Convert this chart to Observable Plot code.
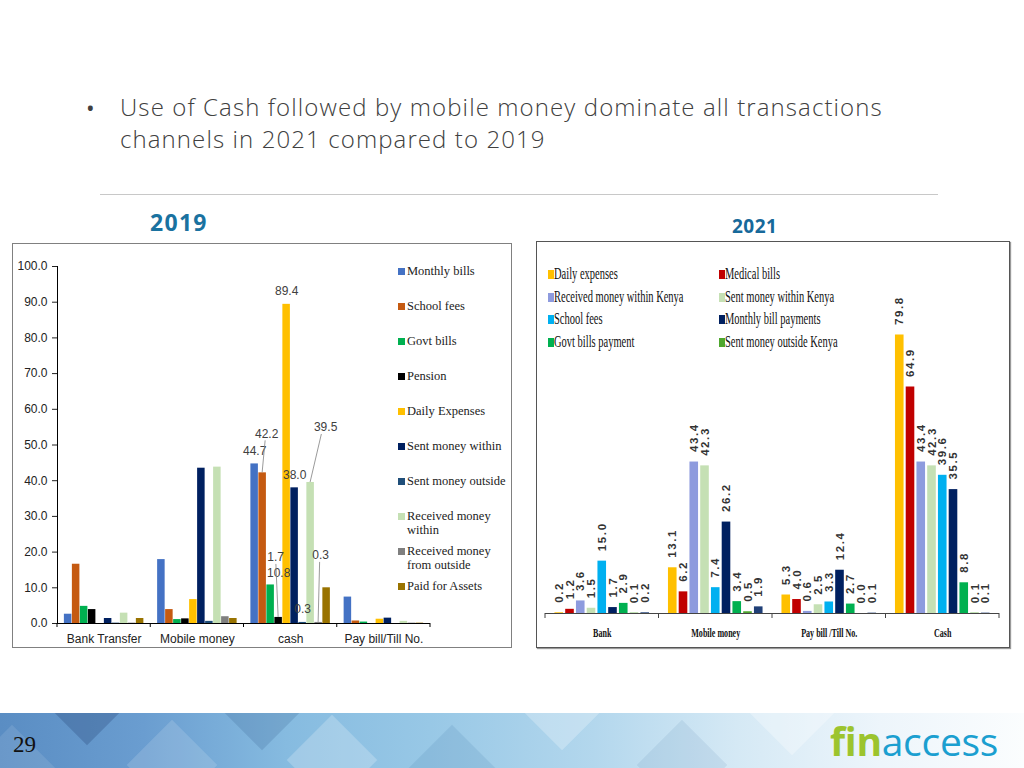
<!DOCTYPE html>
<html><head><meta charset="utf-8">
<script src="https://cdn.jsdelivr.net/npm/d3@7"></script>
<script src="https://cdn.jsdelivr.net/npm/@observablehq/plot@0.6"></script>
<style>
html,body{margin:0;padding:0;background:#fff;}
#slide{position:relative;width:1024px;height:768px;overflow:hidden;font-family:"Open Sans",sans-serif;}
#bullet{position:absolute;left:86px;top:92px;font-size:23px;line-height:32px;color:#404040;}
#title{position:absolute;left:120px;top:91px;font-size:24px;line-height:32px;color:#404040;white-space:nowrap;font-weight:300;letter-spacing:1.1px;}
#rule{position:absolute;left:100px;top:194px;width:838px;height:1px;background:#c8c8c8;}
#y2019{position:absolute;left:150px;top:206px;font-size:23px;font-weight:700;color:#1a72a0;letter-spacing:1.3px;line-height:32px;}
#y2021{position:absolute;left:732px;top:214px;font-size:19px;font-weight:700;color:#17699a;letter-spacing:0.5px;line-height:24px;}
#box1{position:absolute;left:12px;top:243px;width:498px;height:403px;border:1px solid #808080;}
#box2{position:absolute;left:536px;top:241px;width:472px;height:405px;border:1px solid #555;box-shadow:1px 1px 1px #999;}
#plot1{position:absolute;left:0;top:0;}
#plot2{position:absolute;left:0;top:0;}
#leg1{position:absolute;left:385px;top:20px;font-family:"Liberation Serif",serif;font-size:12.5px;line-height:14px;color:#222;}
#leg1 .row{position:relative;height:35px;padding-left:9px;width:100px;}
#leg1 .sw{position:absolute;left:0;top:3.5px;width:7px;height:7px;}
#leg2{position:absolute;left:11px;top:21px;font-family:"Liberation Serif",serif;font-size:16px;line-height:22.5px;color:#111;display:grid;grid-template-columns:171px 171px;}
#leg2 .row{position:relative;height:22.5px;padding-left:6px;white-space:nowrap;}
#leg2 .sw{position:absolute;left:0;top:7px;width:6px;height:9px;}
#leg2 .tx{display:inline-block;transform:scaleX(0.655);transform-origin:left center;}
#plot2 [aria-label="text"] text{letter-spacing:1.6px;font-weight:600;}
#footer{position:absolute;left:0;top:713px;width:1024px;height:55px;overflow:hidden;
background:linear-gradient(90deg,#5a8dc3 0%,#6a9dd0 14%,#86bbe0 28%,#98c8e6 42%,#b3d7ed 58%,#d5e9f5 72%,#edf5fb 86%,#fbfdfe 100%);}
.dm{position:absolute;width:64px;height:64px;transform:rotate(45deg);}
#pnum{position:absolute;left:13px;top:730px;font-family:"Liberation Serif",serif;font-size:23px;color:#111;line-height:30px;}
#logo{position:absolute;left:830px;top:721px;font-family:"Open Sans",sans-serif;font-size:39px;line-height:40px;letter-spacing:-0.3px;white-space:nowrap;}
#logo .fin{color:#9cc42e;font-weight:700;}
#logo .acc{color:#1b9fd0;font-weight:400;}
</style></head>
<body><div id="slide">
<div id="footer">
  <div class="dm" style="left:55px;top:-45px;background:rgba(40,70,120,0.30)"></div>
  <div class="dm" style="left:140px;top:20px;background:rgba(255,255,255,0.14)"></div>
  <div class="dm" style="left:-20px;top:25px;background:rgba(255,255,255,0.10)"></div>
  <div class="dm" style="left:230px;top:-40px;background:rgba(40,80,130,0.18)"></div>
  <div class="dm" style="left:300px;top:15px;background:rgba(255,255,255,0.22)"></div>
  <div class="dm" style="left:420px;top:25px;background:rgba(60,110,160,0.14)"></div>
  <div class="dm" style="left:530px;top:-40px;background:rgba(255,255,255,0.25)"></div>
  <div class="dm" style="left:650px;top:20px;background:rgba(60,110,160,0.10)"></div>
  <div class="dm" style="left:760px;top:-35px;background:rgba(255,255,255,0.30)"></div>
</div>
<div id="bullet">•</div>
<div id="title">Use of Cash followed by mobile money dominate all transactions<br>channels in 2021 compared to 2019</div>
<div id="rule"></div>
<div id="y2019">2019</div>
<div id="y2021">2021</div>
<div id="box1"><div id="plot1"></div><div id="leg1"></div></div>
<div id="box2"><div id="plot2"></div><div id="leg2"></div></div>
<div id="pnum">29</div>
<div id="logo"><span class="fin">fin</span><span class="acc">access</span></div>
</div>
<script>
// ---------- 2019 chart data ----------
const cats2019 = ["Bank Transfer", "Mobile money", "cash", "Pay bill/Till No."];
const series2019 = ["Monthly bills", "School fees", "Govt bills", "Pension", "Daily Expenses",
  "Sent money within", "Sent money outside", "Received money within", "Received money from outside", "Paid for Assets"];
const bank2019    = [2.6, 16.6, 4.8, 3.9, 0.0, 1.4, 0.1, 2.9, 0.1, 1.4];
const mobile2019  = [17.9, 3.9, 1.1, 1.3, 6.7, 43.5, 0.6, 43.8, 1.9, 1.4];
const cash2019    = [44.7, 42.2, 10.8, 1.7, 89.4, 38.0, 0.3, 39.5, 0.3, 10.0];
const paybill2019 = [7.4, 0.7, 0.4, 0.0, 1.2, 1.5, 0.0, 0.6, 0.1, 0.1];
const yTicks2019 = [0, 10, 20, 30, 40, 50, 60, 70, 80, 90, 100];
const labelledCat2019 = "cash";
const labelledSeries2019 = series2019.slice(0, 9);

// ---------- 2021 chart data ----------
const cats2021 = ["Bank", "Mobile money", "Pay bill /Till No.", "Cash"];
const series2021 = ["Daily expenses", "Medical bills", "Received money within Kenya", "Sent money within Kenya",
  "School fees", "Monthly bill payments", "Govt bills payment", "Sent money outside Kenya", "Received money from outside Kenya"];
const bank2021    = [0.2, 1.2, 3.6, 1.5, 15.0, 1.7, 2.9, 0.1, 0.2];
const mobile2021  = [13.1, 6.2, 43.4, 42.3, 7.4, 26.2, 3.4, 0.5, 1.9];
const paybill2021 = [5.3, 4.0, 0.6, 2.5, 3.3, 12.4, 2.7, 0.0, 0.1];
const cash2021    = [79.8, 64.9, 43.4, 42.3, 39.6, 35.5, 8.8, 0.1, 0.1];
const legendSeries2021 = series2021.slice(0, 8);

// ---------- styles (kept apart from data) ----------
const colors2019 = ["#4472C4", "#C55A11", "#00B050", "#000000", "#FFC000", "#002060", "#1F4E79", "#C5E0B4", "#7F7F7F", "#997300"];
const colors2021 = ["#FFC000", "#C00000", "#8E9BDE", "#C5E0B4", "#00B0F0", "#002060", "#00B050", "#4EA72E", "#1F3F77"];
// pixel offsets [dx, dy] of the 2019 data labels that were dragged away from their bars
const labelOffsets2019 = {
  "School fees": [4, -39], "Received money within": [15, -55], "Pension": [-3, -60],
  "Govt bills": [8, -12], "Received money from outside": [2, -67]
};
const defaultOffset2019 = [0, -13];
const leaders2019 = ["School fees", "Received money within", "Pension", "Received money from outside"];

// ---------- build tables ----------
const vals2019 = [bank2019, mobile2019, cash2019, paybill2019];
const rows2019 = cats2019.flatMap((c, i) => series2019.map((s, j) => ({cat: c, series: s, value: vals2019[i][j]})));
const vals2021 = [bank2021, mobile2021, paybill2021, cash2021];
const rows2021 = cats2021.flatMap((c, i) => series2021.map((s, j) => ({cat: c, series: s, value: vals2021[i][j]})));

const fmt = d => d.value.toFixed(1);

// ---------- 2019 chart ----------
const labelRows2019 = rows2019.filter(d => d.cat === labelledCat2019 && labelledSeries2019.includes(d.series));
const labelMarks2019 = labelRows2019.map(d => {
  const [dx, dy] = labelOffsets2019[d.series] || defaultOffset2019;
  return Plot.text([d], {fx: "cat", x: "series", y: "value", text: fmt, dx, dy,
    fill: "#404040", fontSize: 12, lineAnchor: "middle"});
});

const chart1 = Plot.plot({
  width: 498, height: 403,
  marginLeft: 44, marginRight: 81, marginTop: 22, marginBottom: 24,
  style: {fontFamily: "'Liberation Sans', Arial, sans-serif", fontSize: "12px", color: "#222", background: "transparent"},
  fx: {domain: cats2019, padding: 0, round: false, axis: "bottom", tickSize: 0, tickPadding: 11, label: null},
  x: {domain: series2019, paddingInner: 0.06, paddingOuter: 0.86, round: false, axis: null},
  y: {domain: [0, 100], ticks: yTicks2019, tickFormat: d => d.toFixed(1), tickSize: 5, tickPadding: 5, label: null},
  color: {domain: series2019, range: colors2019},
  marks: [
    Plot.barY(rows2019, {fx: "cat", x: "series", y: "value", fill: "series"}),
    ...labelMarks2019
  ]
});
document.getElementById("plot1").appendChild(chart1);

// ---------- 2021 chart ----------
const chart2 = Plot.plot({
  width: 472, height: 405,
  marginLeft: 8, marginRight: 10, marginTop: 22, marginBottom: 34,
  style: {fontFamily: "'Liberation Sans', Arial, sans-serif", fontSize: "11px", color: "#111", background: "transparent"},
  fx: {domain: cats2021, padding: 0, round: false, axis: "bottom", tickSize: 0, tickPadding: 14, label: null},
  x: {domain: series2021, paddingInner: 0.2, paddingOuter: 0.88, round: false, axis: null},
  y: {domain: [0, 100], axis: null},
  color: {domain: series2021, range: colors2021},
  marks: [
    Plot.barY(rows2021, {fx: "cat", x: "series", y: "value", fill: "series"}),
    Plot.text(rows2021, {fx: "cat", x: "series", y: "value", text: fmt, rotate: -90,
      textAnchor: "start", lineAnchor: "middle", dy: -10, fill: "#333", fontSize: 11.5})
  ]
});
document.getElementById("plot2").appendChild(chart2);

// ---------- axis lines and boundary ticks, from the charts' own scales ----------
function decorate(chart, cats, opt) {
  const fx = chart.scale("fx"), y = chart.scale("y");
  const svg = d3.select(chart);
  const y0 = y.apply(0);
  const xs = fx.range[0], xe = fx.range[1];
  const g = svg.append("g").attr("stroke", opt.stroke).attr("stroke-width", 1).attr("fill", "none");
  g.append("line").attr("x1", xs).attr("x2", xe).attr("y1", y0 + 0.5).attr("y2", y0 + 0.5);
  cats.map(c => fx.apply(c)).concat([xe]).forEach(b => {
    g.append("line").attr("x1", b).attr("x2", b).attr("y1", y0).attr("y2", y0 + opt.tick);
  });
  if (opt.yAxis) g.append("line").attr("x1", xs + 0.5).attr("x2", xs + 0.5).attr("y1", y.apply(100)).attr("y2", y0);
  return {fx, y, svg};
}
const d1 = decorate(chart1, cats2019, {stroke: "#000", tick: 4, yAxis: true});
decorate(chart2, cats2021, {stroke: "#444", tick: 5, yAxis: false});

// leader lines for the dragged 2019 labels
{
  const x = chart1.scale("x");
  const lg = d1.svg.append("g").attr("stroke", "#808080").attr("stroke-width", 0.8);
  labelRows2019.filter(d => leaders2019.includes(d.series)).forEach(d => {
    const [dx, dy] = labelOffsets2019[d.series];
    const bx = d1.fx.apply(d.cat) + x.apply(d.series) - x.range[0] + x.bandwidth / 2;
    const by = d1.y.apply(d.value);
    lg.append("line").attr("x1", bx).attr("y1", by).attr("x2", bx + dx * 0.75).attr("y2", by + dy + 7);
  });
}

// 2021 category labels: condensed bold serif
d3.select(chart2).selectAll('[aria-label^="fx-axis"] text').each(function() {
  const t = d3.select(this);
  const tr = t.attr("transform") || "";
  t.attr("transform", tr + " scale(0.62,1)")
   .style("font-family", "'Liberation Serif', serif").style("font-weight", "700").style("font-size", "13px");
});

// ---------- legends ----------
const leg1 = d3.select("#leg1");
series2019.forEach((s, i) => {
  const r = leg1.append("div").attr("class", "row");
  r.append("span").attr("class", "sw").style("background", colors2019[i]);
  r.append("span").text(s);
});
const leg2 = d3.select("#leg2");
legendSeries2021.forEach((s, i) => {
  const r = leg2.append("div").attr("class", "row");
  r.append("span").attr("class", "sw").style("background", colors2021[i]);
  r.append("span").attr("class", "tx").text(s);
});
</script>
</body></html>
